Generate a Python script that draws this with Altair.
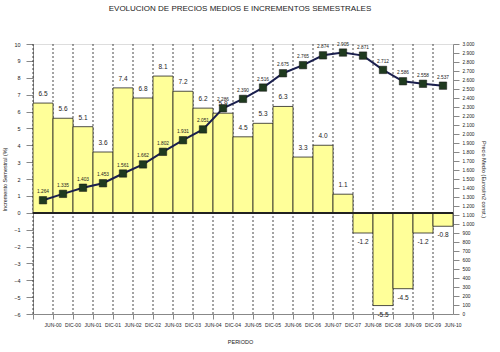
import altair as alt
import pandas as pd

periods = ["JUN-00", "DIC-00", "JUN-01", "DIC-01", "JUN-02", "DIC-02", "JUN-03",
           "DIC-03", "JUN-04", "DIC-04", "JUN-05", "DIC-05", "JUN-06", "DIC-06",
           "JUN-07", "DIC-07", "JUN-08", "DIC-08", "JUN-09", "DIC-09", "JUN-10"]
increments = [6.5, 5.6, 5.1, 3.6, 7.4, 6.8, 8.1, 7.2, 6.2, 5.9, 4.5, 5.3, 6.3, 3.3,
              4.0, 1.1, -1.2, -5.5, -4.5, -1.2, -0.8]
prices = [1264, 1335, 1403, 1453, 1561, 1662, 1802, 1931, 2051, 2286, 2390, 2516,
          2675, 2765, 2874, 2905, 2871, 2712, 2586, 2558, 2537]
left_ticks = list(range(-6, 11))
right_ticks = list(range(0, 3001, 100))

df = pd.DataFrame({
    "periodo": periods,
    "incr": increments,
    "incr_lab": [f"{v:.1f}" for v in increments],
    "precio": prices,
    "precio_lab": [f"{v:,}".replace(",", ".") for v in prices],
})

FONT = "Liberation Sans"

xaxis = alt.Axis(bandPosition=0, labelOffset=10, labelAngle=0, grid=False,
                 tickSize=5, labelFontSize=5, labelPadding=3,
                 titleFontSize=5.5, titleFontWeight="normal", titlePadding=12,
                 titleX=207, labelColor="#222", titleColor="#222",
                 labelOverlap=False)
xscale = alt.Scale(paddingInner=0, paddingOuter=0)
xenc = alt.X("periodo:N", sort=periods, title="PERIODO", scale=xscale, axis=xaxis)

lscale = alt.Scale(domain=[-6, 10], nice=False, zero=False)
laxis = alt.Axis(values=left_ticks, tickSize=7, labelFontSize=5.5,
                 labelPadding=6, grid=False, titleFontSize=5.5,
                 labelOverlap=False, labelFlush=False, tickCount=17,
                 titleFontWeight="normal", titlePadding=6,
                 labelColor="#222", titleColor="#222")
ltitle = "Incremento Semestral (%)"
yleft = alt.Y("incr:Q", title=ltitle, scale=lscale, axis=laxis)

yright = alt.Y(
    "precio:Q", title="Precio Medio (Euros/m2 const.)",
    scale=alt.Scale(domain=[0, 3000], nice=False, zero=False),
    axis=alt.Axis(orient="right", values=right_ticks, tickSize=6,
                  labelFontSize=4.8, labelPadding=3, grid=False,
                  labelOverlap=False, labelFlush=False,
                  labelExpr="replace(format(datum.value, ','), ',', '.')",
                  titleFontSize=5.5, titleFontWeight="normal", titleAngle=90,
                  titlePadding=6, labelColor="#222", titleColor="#222"),
)

base = alt.Chart(df)

bars = base.mark_bar(color="#FFFF99", stroke="#222", strokeWidth=0.8).encode(
    x=xenc, y=yleft)
grid = base.mark_rule(color="#333", strokeWidth=0.9, strokeDash=[2, 2]).encode(
    x=alt.X("periodo:N", sort=periods, bandPosition=0, scale=xscale, axis=xaxis,
            title="PERIODO"),
    y=alt.Y(datum=-6, scale=lscale, axis=laxis, title=ltitle),
    y2=alt.Y2(datum=10))
zero = base.mark_rule(color="#222", strokeWidth=1).encode(
    y=alt.Y(datum=0, scale=lscale, axis=laxis, title=ltitle))
lab_pos = base.transform_filter("datum.incr >= 0").mark_text(
    baseline="bottom", dy=-6, fontSize=6.5, font=FONT, color="#222").encode(
    x=xenc, y=yleft, text="incr_lab:N")
lab_neg = base.transform_filter("datum.incr < 0").mark_text(
    baseline="top", dy=6, fontSize=6.5, font=FONT, color="#222").encode(
    x=xenc, y=yleft, text="incr_lab:N")

left_layer = alt.layer(grid, bars, zero, lab_pos, lab_neg)

line = base.mark_line(color="#1a1f4d", strokeWidth=2).encode(x=xenc, y=yright)
pts = base.mark_square(size=55, color="#1f3a1f", stroke="#111", strokeWidth=0.5,
                       opacity=1).encode(x=xenc, y=yright)
plabs = base.mark_text(baseline="bottom", dy=-6, fontSize=4.8, font=FONT,
                       color="#222").encode(x=xenc, y=yright, text="precio_lab:N")

right_layer = alt.layer(line, pts, plabs)

chart = alt.layer(left_layer, right_layer).resolve_scale(y="independent").properties(
    width=420, height=270,
    title=alt.TitleParams("EVOLUCION DE PRECIOS MEDIOS E INCREMENTOS SEMESTRALES",
                          fontSize=8, fontWeight="normal", font=FONT,
                          color="#222", offset=28, anchor="middle", dx=-3),
    autosize=alt.AutoSizeParams(type="none"),
    padding={"left": 33, "top": 44, "right": 47, "bottom": 38},
).configure_view(stroke="#222", strokeWidth=1).configure_axis(
    domainColor="#222", tickColor="#222", labelFont=FONT, titleFont=FONT
).configure(background="white")

chart.save("out.html", embed_options={"renderer": "svg", "actions": False})
